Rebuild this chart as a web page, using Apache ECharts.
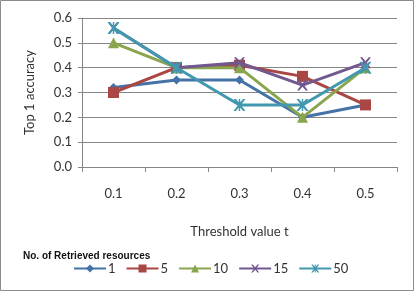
<!DOCTYPE html>
<html>
<head>
<meta charset="utf-8">
<script src="https://cdn.jsdelivr.net/npm/echarts@6/dist/echarts.min.js"></script>
<style>
  html, body { margin: 0; padding: 0; background: #fff; }
  #chart { width: 414px; height: 291px; }
</style>
</head>
<body>
<div id="chart"></div>
<script>
// threshold values on the x axis
let thresholds = ['0.1', '0.2', '0.3', '0.4', '0.5'];

// top 1 accuracy per number of retrieved resources
let seriesNames = ['1', '5', '10', '15', '50'];
let acc1  = [0.32, 0.35, 0.35, 0.20, 0.25];
let acc5  = [0.30, 0.40, 0.41, 0.365, 0.25];
let acc10 = [0.50, 0.40, 0.40, 0.20, 0.40];
let acc15 = [0.56, 0.40, 0.42, 0.33, 0.42];
let acc50 = [0.56, 0.40, 0.25, 0.25, 0.40];

let colors = ['#4572A7', '#AA4643', '#89A54E', '#71588F', '#4198AF'];
let crossPath = 'path://M0,0 L2,0 L5,3.5 L8,0 L10,0 L6.2,5 L10,10 L8,10 L5,6.5 L2,10 L0,10 L3.8,5 Z';
let starPath  = 'path://M0,0 L2,0 L5,3.5 L8,0 L10,0 L6.2,5 L10,10 L8,10 L5,6.5 L2,10 L0,10 L3.8,5 Z M4.4,0 L5.6,0 L5.6,10 L4.4,10 Z';
let symbols = ['diamond', 'rect', 'triangle', crossPath, starPath];
let sizes = [9, 11, 11, 11, 12];
let allData = [acc1, acc5, acc10, acc15, acc50];

let font = 'Lato, "Open Sans", sans-serif';

let series = [];
for (let i = 0; i < allData.length; i++) {
    series.push({
        name: seriesNames[i],
        type: 'line',
        data: allData[i],
        symbol: symbols[i],
        symbolSize: sizes[i],
        color: colors[i],
        lineStyle: { width: 3 },
        itemStyle: { color: colors[i] },
        z: 2 + i
    });
}

let chart = echarts.init(document.getElementById('chart'));
chart.setOption({
    animation: false,
    grid: { left: 82, right: 17, top: 18, bottom: 124 },
    xAxis: {
        type: 'category',
        data: thresholds,
        boundaryGap: true,
        name: 'Threshold value t',
        nameLocation: 'middle',
        nameGap: 58,
        nameTextStyle: { fontFamily: font, fontSize: 13, color: '#333' },
        axisLine: { lineStyle: { color: '#868686' } },
        axisTick: { show: true, length: 5, lineStyle: { color: '#868686' } },
        axisLabel: { fontFamily: font, fontSize: 13, color: '#333', margin: 20 },
        splitLine: { show: false }
    },
    yAxis: {
        type: 'value',
        min: 0,
        max: 0.6,
        interval: 0.1,
        name: 'Top 1 accuracy',
        nameLocation: 'middle',
        nameGap: 46,
        nameTextStyle: { fontFamily: font, fontSize: 13, color: '#333' },
        axisLine: { show: true, lineStyle: { color: '#868686' } },
        axisTick: { show: true, length: 4, lineStyle: { color: '#868686' } },
        axisLabel: {
            fontFamily: font, fontSize: 13, color: '#333', margin: 10,
            formatter: function (v) { return v.toFixed(1); }
        },
        splitLine: { lineStyle: { color: '#868686' } }
    },
    legend: {
        left: 73,
        top: 262,
        padding: 0,
        itemWidth: 32,
        itemHeight: 10,
        itemGap: 10,
        textStyle: { fontFamily: font, fontSize: 13, color: '#333', padding: [0, 0, 0, -3] },
        data: seriesNames
    },
    graphic: [
        {
            type: 'rect',
            shape: { x: 0.5, y: 0.5, width: 413, height: 290 },
            style: { fill: 'none', stroke: '#8c8c8c', lineWidth: 1 },
            silent: true
        },
        {
            type: 'text',
            left: 23,
            top: 251,
            style: {
                text: 'No. of Retrieved resources',
                font: 'bold 10px "Liberation Sans", sans-serif',
                fill: '#111'
            }
        }
    ],
    series: series
});
</script>
</body>
</html>
